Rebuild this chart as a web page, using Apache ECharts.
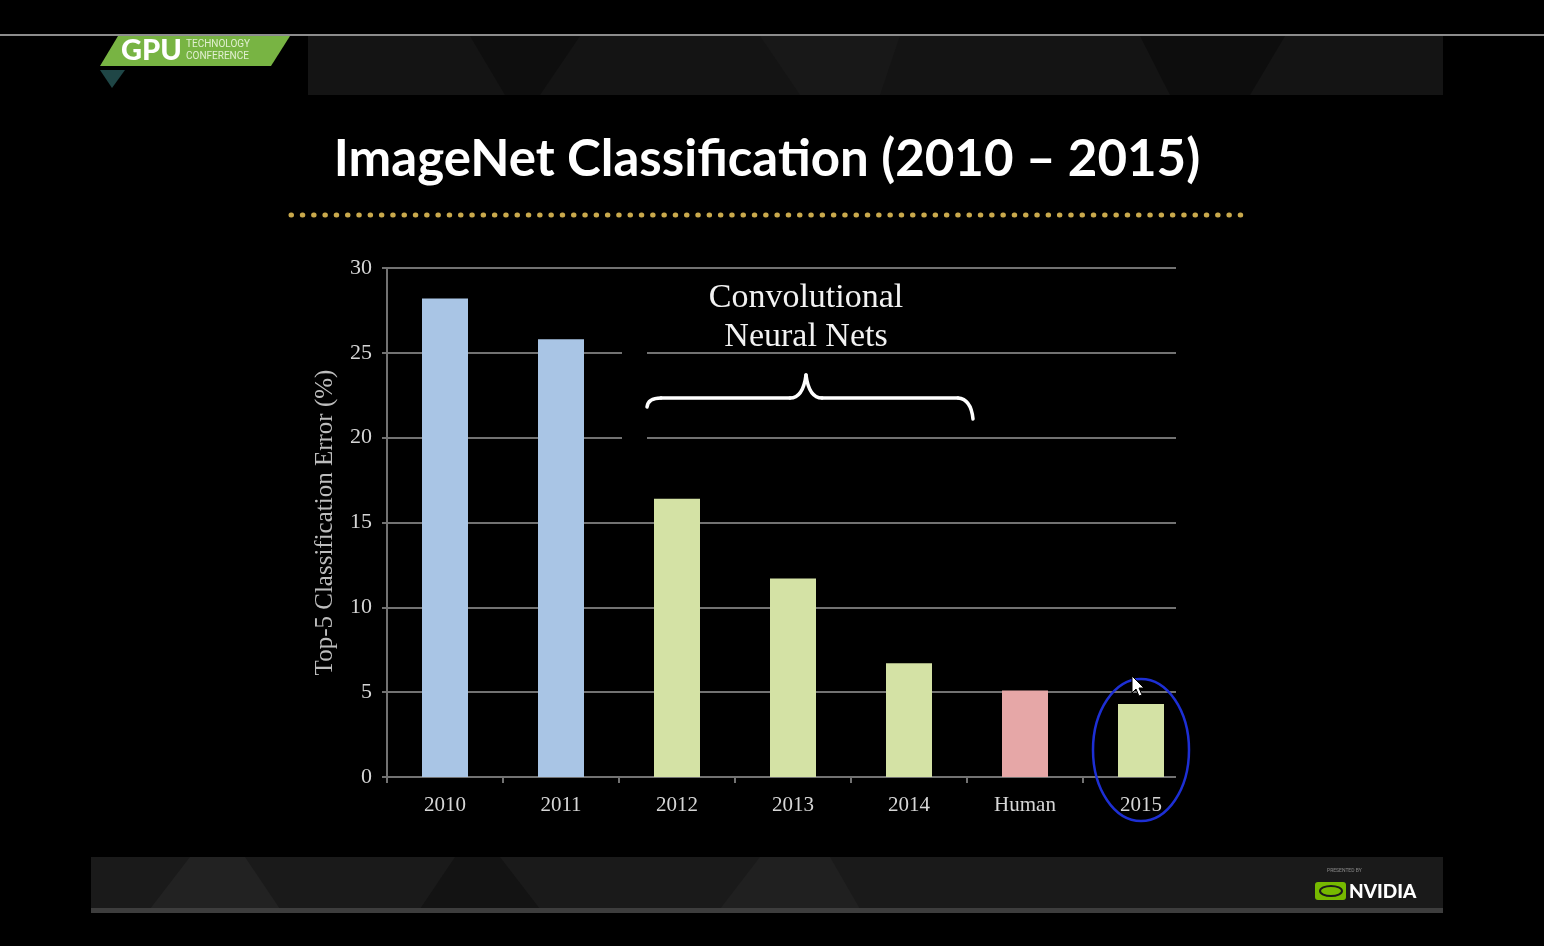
<!DOCTYPE html>
<html>
<head>
<meta charset="utf-8">
<title>ImageNet Classification (2010 – 2015)</title>
<script src="https://cdn.jsdelivr.net/npm/echarts@6/dist/echarts.min.js"></script>
<style>
  html, body { margin: 0; padding: 0; background: #000; }
  #chart { width: 1544px; height: 946px; }
</style>
</head>
<body>
<div id="chart"></div>
<script>
// values
const categories = ['2010', '2011', '2012', '2013', '2014', 'Human', '2015'];
const errorRates = [28.2, 25.8, 16.4, 11.7, 6.7, 5.1, 4.3];
const entryKinds = ['classic', 'classic', 'cnn', 'cnn', 'cnn', 'human', 'cnn'];
const yTicks = { min: 0, max: 30, step: 5 };

const kindColors = {
  classic: '#a9c5e5',
  cnn: '#d4e2a5',
  human: '#e6a7a7'
};

const serif = '"Liberation Serif", "DejaVu Serif", serif';
const gridColor = '#727272';

const barData = errorRates.map((v, i) => ({
  value: v,
  itemStyle: { color: kindColors[entryKinds[i]] }
}));

const braceStyle = { fill: null, stroke: '#fff', lineWidth: 3.5, lineCap: 'round' };

// slide decoration (frame, logos, annotations)
const decor = [
  { type: 'rect', z: 1, shape: { x: 0, y: 34, width: 1544, height: 2 }, style: { fill: '#8c8c8c' } },
  { type: 'rect', z: 1, shape: { x: 308, y: 36, width: 1135, height: 59 }, style: { fill: '#141414' } },
  { type: 'polygon', z: 1, shape: { points: [[470, 36], [580, 36], [540, 95], [505, 95]] }, style: { fill: '#0e0e0e' } },
  { type: 'polygon', z: 1, shape: { points: [[1140, 36], [1285, 36], [1250, 95], [1170, 95]] }, style: { fill: '#0d0d0d' } },
  { type: 'polygon', z: 1, shape: { points: [[760, 36], [900, 36], [880, 95], [800, 95]] }, style: { fill: '#181818' } },
  { type: 'rect', z: 1, shape: { x: 91, y: 857, width: 1352, height: 52 }, style: { fill: '#1a1a1a' } },
  { type: 'polygon', z: 1, shape: { points: [[150, 909], [190, 857], [245, 857], [280, 909]] }, style: { fill: '#222' } },
  { type: 'polygon', z: 1, shape: { points: [[420, 909], [455, 857], [500, 857], [540, 909]] }, style: { fill: '#131313' } },
  { type: 'polygon', z: 1, shape: { points: [[720, 909], [760, 857], [830, 857], [860, 909]] }, style: { fill: '#202020' } },
  { type: 'rect', z: 1, shape: { x: 91, y: 908, width: 1352, height: 5 }, style: { fill: '#3d3d3d' } },

  // GTC logo
  { type: 'polygon', z: 2, shape: { points: [[118, 36], [290, 36], [271, 66], [100, 66]] }, style: { fill: '#78b443' } },
  { type: 'polygon', z: 2, shape: { points: [[100, 70], [125, 70], [112, 88]] }, style: { fill: '#1f4646' } },
  { type: 'text', z: 3, x: 121, y: 51, style: { text: 'GPU', fill: '#fff', font: '900 29px Lato', verticalAlign: 'middle' } },
  { type: 'text', z: 3, x: 186, y: 44, style: { text: 'TECHNOLOGY', fill: '#e2f0d2', font: '10px Roboto', verticalAlign: 'middle' } },
  { type: 'text', z: 3, x: 186, y: 56, style: { text: 'CONFERENCE', fill: '#e2f0d2', font: '10px Roboto', verticalAlign: 'middle' } },

  // title and dotted rule
  { type: 'text', z: 3, x: 767, y: 160, style: { text: 'ImageNet Classification (2010 – 2015)', fill: '#fff', font: 'bold 51px Lato', align: 'center', verticalAlign: 'middle' } },
  { type: 'line', z: 3, shape: { x1: 291, y1: 215, x2: 1244, y2: 215 }, style: { stroke: '#c9a94c', lineWidth: 5, lineDash: [0.5, 10.8], lineCap: 'round' } },

  // gaps in the gridlines
  { type: 'rect', z: 10, shape: { x: 622, y: 340, width: 25, height: 105 }, style: { fill: '#000' } },
  { type: 'rect', z: 10, shape: { x: 1176, y: 258, width: 45, height: 532 }, style: { fill: '#000' } },

  // CNN annotation
  { type: 'text', z: 11, x: 806, y: 298, style: { text: 'Convolutional', fill: '#f2f2f2', font: '34px ' + serif, align: 'center', verticalAlign: 'middle' } },
  { type: 'text', z: 11, x: 806, y: 337, style: { text: 'Neural Nets', fill: '#f2f2f2', font: '34px ' + serif, align: 'center', verticalAlign: 'middle' } },
  { type: 'bezierCurve', z: 11, shape: { x1: 647, y1: 407, cpx1: 648, cpy1: 398, x2: 661, y2: 398 }, style: braceStyle },
  { type: 'line', z: 11, shape: { x1: 661, y1: 398, x2: 790, y2: 398 }, style: braceStyle },
  { type: 'bezierCurve', z: 11, shape: { x1: 790, y1: 398, cpx1: 803, cpy1: 398, x2: 806, y2: 375 }, style: braceStyle },
  { type: 'bezierCurve', z: 11, shape: { x1: 806, y1: 375, cpx1: 809, cpy1: 398, x2: 822, y2: 398 }, style: braceStyle },
  { type: 'line', z: 11, shape: { x1: 822, y1: 398, x2: 958, y2: 398 }, style: braceStyle },
  { type: 'bezierCurve', z: 11, shape: { x1: 958, y1: 398, cpx1: 971, cpy1: 399, x2: 973, y2: 419 }, style: braceStyle },

  // hand-drawn circle and cursor
  { type: 'ellipse', z: 20, shape: { cx: 1141, cy: 750, rx: 48, ry: 71 }, style: { fill: null, stroke: '#1d2fd4', lineWidth: 2.5 } },
  { type: 'polygon', z: 21, shape: { points: [[1132, 676], [1132, 693], [1136, 689], [1139, 696], [1142, 695], [1139, 688], [1144, 688]] }, style: { fill: '#fff', stroke: '#000', lineWidth: 1 } },

  // NVIDIA logo
  { type: 'text', z: 3, x: 1327, y: 871, style: { text: 'PRESENTED BY', fill: '#8a8a8a', font: '5px Roboto', verticalAlign: 'middle' } },
  { type: 'rect', z: 3, shape: { x: 1315, y: 882, width: 31, height: 18, r: 3 }, style: { fill: '#76b900' } },
  { type: 'ellipse', z: 4, shape: { cx: 1331, cy: 891, rx: 11, ry: 5 }, style: { fill: null, stroke: '#1a1a1a', lineWidth: 2 } },
  { type: 'text', z: 3, x: 1349, y: 892, style: { text: 'NVIDIA', fill: '#fff', font: '900 19px Lato', verticalAlign: 'middle' } }
];

const option = {
  backgroundColor: '#000',
  animation: false,
  grid: {
    left: 387,
    top: 268,
    width: 812,
    bottom: 169
  },
  xAxis: {
    type: 'category',
    data: categories,
    axisLine: { lineStyle: { color: gridColor, width: 2 } },
    axisTick: { show: true, length: 6, lineStyle: { color: gridColor, width: 2 } },
    axisLabel: { color: '#d6d6d6', fontFamily: serif, fontSize: 21, margin: 18 }
  },
  yAxis: {
    type: 'value',
    min: yTicks.min,
    max: yTicks.max,
    interval: yTicks.step,
    name: 'Top-5 Classification Error (%)',
    nameLocation: 'middle',
    nameRotate: 90,
    nameGap: 49,
    nameTextStyle: { color: '#bdbdbd', fontFamily: serif, fontSize: 25 },
    axisLine: { show: true, lineStyle: { color: gridColor, width: 2 } },
    axisTick: { show: true, length: 5, lineStyle: { color: gridColor, width: 2 } },
    axisLabel: { color: '#d6d6d6', fontFamily: serif, fontSize: 22, margin: 15 },
    splitLine: { lineStyle: { color: gridColor, width: 2 } }
  },
  series: [{
    type: 'bar',
    barWidth: 46,
    data: barData
  }],
  graphic: decor
};

const myChart = echarts.init(document.getElementById('chart'));
myChart.setOption(option);
</script>
</body>
</html>
